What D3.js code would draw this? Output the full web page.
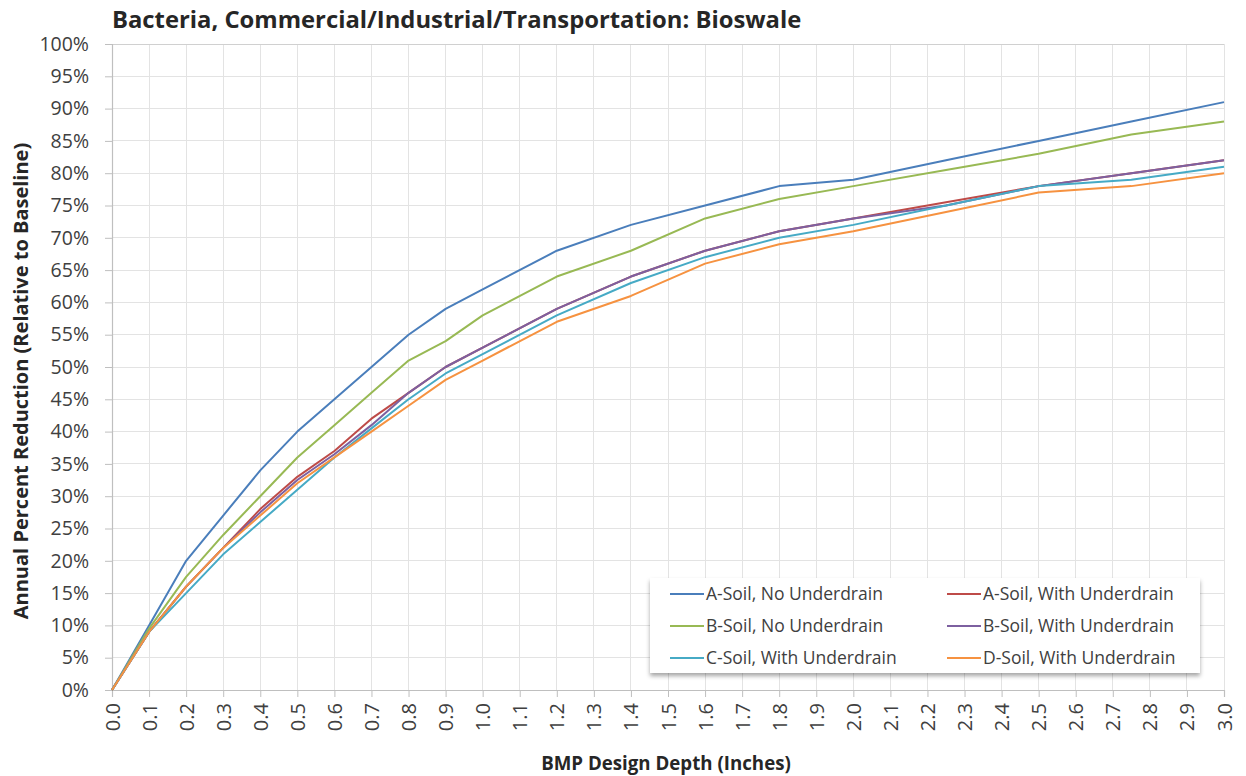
<!DOCTYPE html>
<html>
<head>
<meta charset="utf-8">
<script src="https://cdn.jsdelivr.net/npm/d3@7"></script>
<style>
  html, body { margin: 0; padding: 0; background: #ffffff; }
  svg { display: block; font-family: "Open Sans", "DejaVu Sans", sans-serif; }
</style>
</head>
<body>
<svg id="chart" width="1246" height="776"></svg>
<script>
// ---- data ----
const depths = [0, 0.1, 0.2, 0.3, 0.4, 0.5, 0.6, 0.7, 0.8, 0.9, 1.0, 1.2, 1.4, 1.6, 1.8, 2.0, 2.25, 2.5, 2.75, 3.0];
const seriesNames = [
  "A-Soil, No Underdrain",
  "A-Soil, With Underdrain",
  "B-Soil, No Underdrain",
  "B-Soil, With Underdrain",
  "C-Soil, With Underdrain",
  "D-Soil, With Underdrain"
];
const aSoilNoUnderdrain   = [0, 10, 20, 27, 34, 40, 45, 50, 55, 59, 62, 68, 72, 75, 78, 79, 82, 85, 88, 91];
const aSoilWithUnderdrain = [0, 9, 16, 22, 28, 33, 37, 42, 46, 50, 53, 59, 64, 68, 71, 73, 75.5, 78, 80, 82];
const bSoilNoUnderdrain   = [0, 9.5, 17.5, 24, 30, 36, 41, 46, 51, 54, 58, 64, 68, 73, 76, 78, 80.5, 83, 86, 88];
const bSoilWithUnderdrain = [0, 9, 16, 22, 27.5, 32.5, 36.5, 41, 46, 50, 53, 59, 64, 68, 71, 73, 75, 78, 80, 82];
const cSoilWithUnderdrain = [0, 9, 15, 21, 26, 31, 36, 40.5, 45, 49, 52, 58, 63, 67, 70, 72, 75, 78, 79, 81];
const dSoilWithUnderdrain = [0, 9, 16, 22, 27, 32, 36, 40, 44, 48, 51, 57, 61, 66, 69, 71, 74, 77, 78, 80];
const seriesValues = [aSoilNoUnderdrain, aSoilWithUnderdrain, bSoilNoUnderdrain, bSoilWithUnderdrain, cSoilWithUnderdrain, dSoilWithUnderdrain];
const seriesColors = ["#4A7EBB", "#BE4B48", "#98B954", "#7D60A0", "#46AAC5", "#F69240"];
const xTicks = d3.range(0, 31).map(i => i / 10);
const yTicks = d3.range(0, 21).map(i => i * 5);

const titleText = "Bacteria, Commercial/Industrial/Transportation: Bioswale";
const xTitle = "BMP Design Depth (Inches)";
const yTitle = "Annual Percent Reduction (Relative to Baseline)";

// ---- layout ----
const svg = d3.select("#chart");
const pL = 112, pR = 1224, pT = 44, pB = 690;
const x = d3.scaleLinear().domain([0, 3]).range([pL, pR]);
const y = d3.scaleLinear().domain([0, 100]).range([pB, pT]);

// gridlines
const grid = svg.append("g").attr("class", "grid");
grid.selectAll("line.v").data(xTicks.slice(1)).enter().append("line")
  .attr("x1", d => x(d)).attr("x2", d => x(d))
  .attr("y1", pT).attr("y2", pB)
  .attr("stroke", "#E3E3E3").attr("stroke-width", 1).attr("shape-rendering", "crispEdges");
grid.selectAll("line.h").data(yTicks.slice(1)).enter().append("line")
  .attr("x1", pL).attr("x2", pR)
  .attr("y1", d => y(d)).attr("y2", d => y(d))
  .attr("stroke", d => d === 100 ? "#D0D0D0" : "#E3E3E3").attr("stroke-width", 1).attr("shape-rendering", "crispEdges");

// axes
const yAxis = d3.axisLeft(y).tickValues(yTicks).tickFormat(d => d + "%").tickSize(7).tickPadding(16);
const gy = svg.append("g").attr("transform", `translate(${pL},0)`).call(yAxis);
gy.select(".domain").attr("stroke", "#BFBFBF").attr("stroke-width", 1.2);
gy.selectAll(".tick line").attr("stroke", "#BFBFBF");
gy.selectAll(".tick text").attr("fill", "#404040").style("font-size", "19.5px").style("font-family", "'Open Sans', sans-serif");

const xAxis = d3.axisBottom(x).tickValues(xTicks).tickFormat(d3.format(".1f")).tickSize(7).tickPadding(6);
const gx = svg.append("g").attr("transform", `translate(0,${pB})`).call(xAxis);
gx.select(".domain").attr("stroke", "#BFBFBF").attr("stroke-width", 1.2);
gx.selectAll(".tick line").attr("stroke", "#BFBFBF");
gx.selectAll(".tick text")
  .attr("fill", "#404040").style("font-size", "20px").style("font-family", "'Open Sans', sans-serif")
  .attr("transform", "rotate(-90)")
  .attr("x", -13).attr("y", 0).attr("dy", "0.35em")
  .attr("text-anchor", "end");

// lines
const line = d3.line().x(d => x(d[0])).y(d => y(d[1]));
const linesG = svg.append("g");
seriesValues.forEach((vals, i) => {
  linesG.append("path")
    .datum(depths.map((d, j) => [d, vals[j]]))
    .attr("d", line)
    .attr("fill", "none")
    .attr("stroke", seriesColors[i])
    .attr("stroke-width", 2)
    .attr("stroke-linejoin", "round");
});

// title
svg.append("text").attr("x", 112).attr("y", 28)
  .style("font-size", "23.8px").style("font-weight", "bold").attr("fill", "#262626")
  .text(titleText);

// axis titles
svg.append("text").attr("x", 666).attr("y", 770).attr("text-anchor", "middle")
  .style("font-size", "18.7px").style("font-weight", "bold").attr("fill", "#262626")
  .text(xTitle);
svg.append("text").attr("transform", `translate(28,381) rotate(-90)`).attr("text-anchor", "middle")
  .style("font-size", "20px").style("font-weight", "bold").attr("fill", "#262626")
  .text(yTitle);

// legend
const defs = svg.append("defs");
const f = defs.append("filter").attr("id", "shadow").attr("x", "-5%").attr("y", "-10%").attr("width", "110%").attr("height", "130%");
f.append("feDropShadow").attr("dx", 0).attr("dy", 3).attr("stdDeviation", 2.2).attr("flood-color", "#000").attr("flood-opacity", 0.35);

const lg = svg.append("g");
lg.append("rect").attr("x", 650).attr("y", 578).attr("width", 550).attr("height", 95)
  .attr("fill", "#ffffff").attr("filter", "url(#shadow)");
const legendCols = [670, 947];
const legendRows = [594, 626, 658];
seriesNames.forEach((name, i) => {
  const cx = legendCols[i % 2], cy = legendRows[Math.floor(i / 2)];
  lg.append("line").attr("x1", cx).attr("x2", cx + 34).attr("y1", cy).attr("y2", cy)
    .attr("stroke", seriesColors[i]).attr("stroke-width", 2);
  lg.append("text").attr("x", cx + 36).attr("y", cy).attr("dy", "0.35em")
    .style("font-size", "17.5px").attr("fill", "#404040").text(name);
});
</script>
</body>
</html>
